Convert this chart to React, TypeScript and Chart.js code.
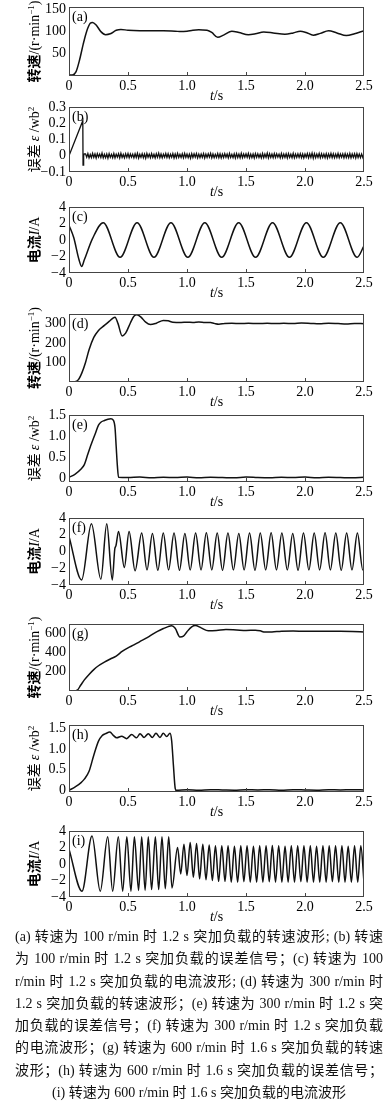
import React, { useEffect, useRef } from "react";
import { Chart, registerables } from "chart.js";

Chart.register(...registerables);

// ---------------- data (time in s, value) ----------------
const xTicks = [0, 0.5, 1, 1.5, 2, 2.5];
const xTickLabels = ["0", "0.5", "1.0", "1.5", "2.0", "2.5"];

const speedTicksA = [50, 100, 150];
const speedLabelsA = ["50", "100", "150"];
const speedTicksD = [100, 200, 300];
const speedLabelsD = ["100", "200", "300"];
const speedTicksG = [200, 400, 600];
const speedLabelsG = ["200", "400", "600"];
const errorTicksB = [-0.1, 0, 0.1, 0.2, 0.3];
const errorLabelsB = ["\u22120.1", "0", "0.1", "0.2", "0.3"];
const errorTicksEH = [0, 0.5, 1, 1.5];
const errorLabelsEH = ["0", "0.5", "1.0", "1.5"];
const currentTicks = [-4, -2, 0, 2, 4];
const currentLabels = ["\u22124", "\u22122", "0", "2", "4"];

const speedA100 = [
  [0, 0], [0.03, 0.5], [0.06, 8], [0.09, 35], [0.12, 70], [0.15, 100], [0.18, 118], [0.2, 120],
  [0.23, 114], [0.27, 99], [0.31, 92], [0.35, 94], [0.4, 102], [0.44, 104], [0.5, 102], [0.6, 101],
  [0.7, 101], [0.8, 101], [0.9, 100], [0.95, 99], [1.0, 100], [1.05, 102], [1.1, 103], [1.17, 102],
  [1.21, 97], [1.26, 86], [1.31, 91], [1.38, 100], [1.44, 97], [1.52, 92], [1.58, 94], [1.65, 98],
  [1.73, 96], [1.83, 93], [1.9, 96], [1.96, 100], [2.01, 97], [2.07, 91], [2.13, 95], [2.2, 101],
  [2.27, 96], [2.35, 90], [2.42, 94], [2.5, 101],
];

const errorB100Head = [
  [0, 0], [0.117, 0.216], [0.119, -0.057], [0.124, 0.0], [0.13, 0.012],
];
const errorB100Noise = [
  0.012, -0.009, 0.014, -0.013, 0.008, -0.012, 0.015, -0.010, 0.011, -0.014, 0.013, -0.008, 0.010, -0.011, 0.016, -0.013, 0.009, -0.012, 0.011, -0.015,
  0.013, -0.010, 0.009, -0.012, 0.014, -0.013, 0.010, -0.009, 0.012, -0.014, 0.015, -0.011, 0.008, -0.013, 0.012, -0.010, 0.014, -0.012, 0.011, -0.009,
  0.010, -0.013, 0.012, -0.011, 0.015, -0.014, 0.009, -0.010, 0.013, -0.012, 0.011, -0.015, 0.014, -0.009, 0.010, -0.012, 0.013, -0.011, 0.009, -0.014,
  0.012, -0.010, 0.016, -0.012, 0.011, -0.013, 0.010, -0.009, 0.014, -0.011, 0.012, -0.013, 0.009, -0.010, 0.013, -0.014, 0.011, -0.012, 0.015, -0.010,
  0.009, -0.011, 0.012, -0.013, 0.014, -0.010, 0.011, -0.012, 0.010, -0.015, 0.013, -0.011, 0.012, -0.009, 0.014, -0.013, 0.010, -0.012, 0.011, -0.010,
  0.013, -0.014, 0.010, -0.011, 0.012, -0.009, 0.015, -0.013, 0.011, -0.012, 0.009, -0.010, 0.014, -0.012, 0.012, -0.014, 0.010, -0.011, 0.013, -0.009,
  0.011, -0.013, 0.014, -0.010, 0.009, -0.012, 0.012, -0.014, 0.013, -0.011, 0.010, -0.013, 0.015, -0.012, 0.011, -0.009, 0.012, -0.010, 0.014, -0.013,
  0.010, -0.012, 0.011, -0.014, 0.013, -0.010, 0.012, -0.011, 0.009, -0.013, 0.014, -0.012, 0.011, -0.010, 0.016, -0.014, 0.012, -0.011, 0.010, -0.012,
  0.013, -0.011, 0.012, -0.009, 0.010, -0.013, 0.014, -0.012, 0.011, -0.010, 0.012, -0.014, 0.013, -0.011, 0.009, -0.012, 0.015, -0.013, 0.010, -0.011,
  0.012, -0.010, 0.013, -0.012, 0.011, -0.014, 0.010, -0.009, 0.014, -0.013, 0.012, -0.011, 0.016, -0.015, 0.013, -0.012, 0.011, -0.010, 0.014, -0.013,
  0.012, -0.011, 0.010, -0.012, 0.013, -0.014, 0.011, -0.010, 0.015, -0.012, 0.012, -0.013, 0.010, -0.011, 0.014, -0.012, 0.011, -0.009, 0.012, -0.013,
  0.013, -0.011, 0.010, -0.012, 0.014, -0.013, 0.011, -0.010, 0.012, -0.014, 0.013, -0.011, 0.010, -0.012, 0.011, -0.010, 0.012,
];
const errorB100NoiseStart = 0.14;
const errorB100NoiseStep = 0.01;

const currentC100 = [
  [0, 1.8], [0.04, 0.3], [0.085, -2.4], [0.107, -3.2], [0.13, -2.4], [0.2, 0.2], [0.29, 2.1],
  [0.433, -2.1], [0.577, 2.1], [0.72, -2.1], [0.864, 2.1], [1.007, -2.1], [1.151, 2.1], [1.294, -2.1],
  [1.438, 2.1], [1.581, -2.1], [1.725, 2.1], [1.868, -2.1], [2.012, 2.1], [2.155, -2.1], [2.299, 2.1],
  [2.442, -2.1], [2.5, -0.7],
];

const speedD300 = [
  [0, 0], [0.05, 1], [0.08, 12], [0.11, 48], [0.14, 100], [0.17, 165], [0.21, 228], [0.25, 264],
  [0.3, 290], [0.34, 310], [0.37, 326], [0.39, 332], [0.415, 300], [0.45, 236], [0.48, 250], [0.52, 302],
  [0.55, 336], [0.575, 344], [0.61, 332], [0.65, 306], [0.69, 294], [0.74, 301], [0.8, 315], [0.84, 313],
  [0.88, 306], [0.95, 305], [1.0, 306], [1.05, 305], [1.1, 307], [1.15, 305], [1.2, 304], [1.23, 300],
  [1.27, 296], [1.32, 300], [1.38, 301], [1.45, 299], [1.52, 301], [1.6, 299], [1.68, 301], [1.75, 299],
  [1.82, 301], [1.9, 299], [1.97, 302], [2.05, 300], [2.12, 298], [2.2, 301], [2.28, 299], [2.35, 297],
  [2.42, 300], [2.5, 298],
];

const errorE300 = [
  [0, 0.03], [0.05, 0.1], [0.1, 0.22], [0.13, 0.33], [0.16, 0.58], [0.19, 0.82], [0.22, 1.04],
  [0.25, 1.26], [0.27, 1.33], [0.3, 1.37], [0.33, 1.4], [0.355, 1.41], [0.375, 1.38], [0.39, 1.2],
  [0.4, 0.75], [0.41, 0.3], [0.42, 0.03], [0.5, 0.025], [0.6, 0.035], [0.7, 0.02], [0.8, 0.03],
  [0.9, 0.025], [1.0, 0.035], [1.1, 0.02], [1.2, 0.03], [1.3, 0.025], [1.4, 0.02], [1.5, 0.035],
  [1.6, 0.025], [1.7, 0.02], [1.8, 0.03], [1.9, 0.025], [2.0, 0.035], [2.1, 0.02], [2.2, 0.03],
  [2.3, 0.025], [2.4, 0.02], [2.5, 0.03],
];

const currentF300 = [
  [0, 1.8], [0.107, -3.4], [0.19, 3.3], [0.27, -3.3], [0.32, 3.3], [0.367, -3.4], [0.388, 0.3],
  [0.398, 0.7], [0.42, 2.4], [0.469, -1.9], [0.509, 2.4], [0.56, -2.3],
  [0.616, 2.2], [0.661, -2.2], [0.707, 2.15], [0.753, -2.25], [0.799, 2.2], [0.844, -2.2], [0.89, 2.2],
  [0.936, -2.25], [0.982, 2.15], [1.027, -2.2], [1.073, 2.2], [1.119, -2.2], [1.164, 2.25], [1.21, -2.2],
  [1.256, 2.2], [1.301, -2.25], [1.347, 2.2], [1.393, -2.2], [1.439, 2.15], [1.484, -2.2], [1.53, 2.2],
  [1.576, -2.25], [1.621, 2.2], [1.667, -2.2], [1.713, 2.25], [1.758, -2.2], [1.804, 2.2], [1.85, -2.2],
  [1.896, 2.15], [1.941, -2.25], [1.987, 2.2], [2.033, -2.2], [2.078, 2.2], [2.124, -2.2], [2.17, 2.25],
  [2.215, -2.2], [2.261, 2.2], [2.307, -2.25], [2.353, 2.2], [2.398, -2.2], [2.444, 2.2], [2.49, -2.2],
  [2.5, -2.1],
];

const speedG600 = [
  [0, 0], [0.04, 0], [0.07, 8], [0.1, 62], [0.13, 115], [0.17, 172], [0.21, 222], [0.25, 262],
  [0.3, 300], [0.35, 332], [0.4, 362], [0.45, 410], [0.5, 448], [0.55, 478], [0.6, 513], [0.65, 545],
  [0.7, 582], [0.75, 618], [0.8, 648], [0.84, 668], [0.87, 676], [0.9, 650], [0.94, 560], [0.97, 568],
  [1.0, 615], [1.04, 665], [1.07, 679], [1.12, 655], [1.18, 625], [1.25, 628], [1.33, 638], [1.42, 633],
  [1.5, 628], [1.58, 630], [1.62, 624], [1.66, 611], [1.72, 612], [1.8, 620], [1.9, 622], [2.0, 620],
  [2.1, 621], [2.2, 620], [2.3, 619], [2.4, 616], [2.5, 612],
];

const errorH600 = [
  [0, 0], [0.05, 0.08], [0.1, 0.18], [0.13, 0.27], [0.17, 0.46], [0.21, 0.85], [0.25, 1.19],
  [0.28, 1.32], [0.31, 1.37], [0.347, 1.41], [0.375, 1.33], [0.404, 1.27], [0.446, 1.31], [0.489, 1.25],
  [0.531, 1.35], [0.573, 1.27], [0.602, 1.37], [0.636, 1.28], [0.672, 1.37], [0.706, 1.28], [0.737, 1.38],
  [0.771, 1.28], [0.799, 1.38], [0.828, 1.3], [0.856, 1.38], [0.87, 1.2], [0.885, 0.6], [0.9, 0.05],
  [0.91, 0.0], [1.0, 0.015], [1.1, 0.005], [1.2, 0.015], [1.3, 0.01], [1.4, 0.005], [1.5, 0.015],
  [1.6, 0.01], [1.7, 0.015], [1.8, 0.005], [1.9, 0.015], [2.0, 0.01], [2.1, 0.005], [2.2, 0.015],
  [2.3, 0.01], [2.4, 0.015], [2.5, 0.01],
];

const currentI600 = [
  [0, 1.8], [0.11, -3.3], [0.195, 3.4], [0.265, -3.3], [0.328, 3.3], [0.37, -3.3], [0.418, 3.3],
  [0.455, -3.3], [0.49, 3.3], [0.525, -3.3], [0.554, 3.3], [0.59, -3.2], [0.616, 3.3], [0.645, -3.2],
  [0.672, 3.3], [0.7, -3.1], [0.732, 3.3], [0.76, -3.1], [0.788, 3.3], [0.816, -3.0], [0.845, 3.3],
  [0.873, -2.9],
  [0.92, 2.0], [0.947, -1.2], [0.974, 2.4], [1.0, -1.4], [1.027, 2.6], [1.054, -1.6], [1.081, 2.5],
  [1.107, -1.8], [1.134, 2.4], [1.161, -1.9], [1.188, 2.3], [1.215, -2.0], [1.241, 2.2], [1.268, -2.1],
  [1.295, 2.2], [1.322, -2.1], [1.348, 2.2], [1.375, -2.2], [1.402, 2.15], [1.429, -2.2], [1.456, 2.2],
  [1.482, -2.15], [1.509, 2.2], [1.536, -2.2], [1.563, 2.15], [1.59, -2.2], [1.616, 2.2], [1.643, -2.2],
  [1.67, 2.2], [1.697, -2.15], [1.723, 2.25], [1.75, -2.2], [1.777, 2.2], [1.804, -2.2], [1.831, 2.15],
  [1.857, -2.2], [1.884, 2.2], [1.911, -2.2], [1.938, 2.2], [1.965, -2.15], [1.991, 2.2], [2.018, -2.2],
  [2.045, 2.2], [2.072, -2.2], [2.098, 2.15], [2.125, -2.2], [2.152, 2.2], [2.179, -2.2], [2.205, 2.2],
  [2.232, -2.15], [2.259, 2.2], [2.286, -2.2], [2.313, 2.2], [2.339, -2.2], [2.366, 2.15], [2.393, -2.2],
  [2.42, 2.2], [2.447, -2.2], [2.473, 2.2], [2.5, -2.2],
];

const captionLines = [
  "(a) 转速为 100 r/min 时 1.2 s 突加负载的转速波形; (b) 转速",
  "为 100 r/min 时 1.2 s 突加负载的误差信号；(c) 转速为 100",
  "r/min 时 1.2 s 突加负载的电流波形; (d) 转速为 300 r/min 时",
  "1.2 s 突加负载的转速波形；(e) 转速为 300 r/min 时 1.2 s 突",
  "加负载的误差信号；(f) 转速为 300 r/min 时 1.2 s 突加负载",
  "的电流波形；(g) 转速为 600 r/min 时 1.6 s 突加负载的转速",
  "波形；(h) 转速为 600 r/min 时 1.6 s 突加负载的误差信号；",
  "(i) 转速为 600 r/min 时 1.6 s 突加负载的电流波形",
];

// ---------------- layout / style ----------------
const PAD_T = 12;
const X_H = 30;
const Y_W = 69;
const PAD_R = 28;
const SERIF = '"Liberation Serif", "Times New Roman", serif';
const CJK = '"Noto Sans CJK SC", sans-serif';

const errorB100 = [
  ...errorB100Head,
  ...errorB100Noise.map((v, i) => [errorB100NoiseStart + i * errorB100NoiseStep, v]),
];

type Seg = { t: string; f: string; dy?: number };

const titles: Record<string, Seg[]> = {
  speed: [
    { t: "转速", f: `bold 14px ${CJK}` },
    { t: "/(r\u00B7min", f: `14px ${SERIF}` },
    { t: "\u22121", f: `9px ${SERIF}`, dy: -5 },
    { t: ")", f: `14px ${SERIF}` },
  ],
  error: [
    { t: "误差 ", f: `14px ${CJK}` },
    { t: "\u03B5", f: `italic 14px ${SERIF}` },
    { t: " /wb", f: `14px ${SERIF}` },
    { t: "2", f: `9px ${SERIF}`, dy: -5 },
  ],
  current: [
    { t: "电流", f: `bold 14px ${CJK}` },
    { t: "I", f: `italic 14px ${SERIF}` },
    { t: "/A", f: `14px ${SERIF}` },
  ],
};

const xTitle: Seg[] = [
  { t: "t", f: `italic 14px ${SERIF}` },
  { t: "/s", f: `14px ${SERIF}` },
];

const panels = [
  { id: "(a)", data: speedA100, yMin: -2, yMax: 155, yTicks: speedTicksA, yLabels: speedLabelsA, kind: "speed", smooth: true, top: 7, h: 69 },
  { id: "(b)", data: errorB100, yMin: -0.1, yMax: 0.3, yTicks: errorTicksB, yLabels: errorLabelsB, kind: "error", smooth: false, top: 107, h: 65 },
  { id: "(c)", data: currentC100, yMin: -4, yMax: 4, yTicks: currentTicks, yLabels: currentLabels, kind: "current", smooth: true, top: 207, h: 66 },
  { id: "(d)", data: speedD300, yMin: 0, yMax: 348, yTicks: speedTicksD, yLabels: speedLabelsD, kind: "speed", smooth: true, top: 314, h: 68 },
  { id: "(e)", data: errorE300, yMin: -0.08, yMax: 1.5, yTicks: errorTicksEH, yLabels: errorLabelsEH, kind: "error", smooth: true, top: 415, h: 67 },
  { id: "(f)", data: currentF300, yMin: -4, yMax: 4, yTicks: currentTicks, yLabels: currentLabels, kind: "current", smooth: true, top: 518, h: 67 },
  { id: "(g)", data: speedG600, yMin: 0, yMax: 695, yTicks: speedTicksG, yLabels: speedLabelsG, kind: "speed", smooth: true, top: 624, h: 67 },
  { id: "(h)", data: errorH600, yMin: -0.04, yMax: 1.58, yTicks: errorTicksEH, yLabels: errorLabelsEH, kind: "error", smooth: true, top: 725, h: 67 },
  { id: "(i)", data: currentI600, yMin: -4, yMax: 4, yTicks: currentTicks, yLabels: currentLabels, kind: "current", smooth: true, top: 831, h: 66 },
];

function drawRich(ctx: CanvasRenderingContext2D, segs: Seg[], cx: number, cy: number, rotate: boolean) {
  let total = 0;
  const widths: number[] = [];
  segs.forEach((s) => {
    ctx.font = s.f;
    const w = ctx.measureText(s.t).width;
    widths.push(w);
    total += w;
  });
  ctx.save();
  ctx.translate(cx, cy);
  if (rotate) ctx.rotate(-Math.PI / 2);
  ctx.textAlign = "left";
  ctx.textBaseline = "alphabetic";
  ctx.fillStyle = "#000";
  let x = -total / 2;
  segs.forEach((s, i) => {
    ctx.font = s.f;
    ctx.fillText(s.t, x, 5 + (s.dy || 0));
    x += widths[i];
  });
  ctx.restore();
}

const framePlugin = {
  id: "framePlugin",
  afterDraw(chart: any) {
    const ctx: CanvasRenderingContext2D = chart.ctx;
    const ca = chart.chartArea;
    const cfg = chart.options.plugins.framePlugin;
    ctx.save();
    ctx.strokeStyle = "#444";
    ctx.lineWidth = 1;
    ctx.strokeRect(ca.left + 0.5, ca.top + 0.5, ca.right - ca.left - 1, ca.bottom - ca.top - 1);
    const xs = chart.scales.x;
    ctx.beginPath();
    xs.ticks.forEach((t: any, i: number) => {
      if (i === 0 || i === xs.ticks.length - 1) return;
      const px = Math.round(xs.getPixelForValue(t.value)) + 0.5;
      ctx.moveTo(px, ca.bottom);
      ctx.lineTo(px, ca.bottom - 4);
    });
    ctx.stroke();
    ctx.fillStyle = "#000";
    ctx.font = `14px ${SERIF}`;
    ctx.textAlign = "left";
    ctx.textBaseline = "top";
    ctx.fillText(cfg.label, ca.left + 3, ca.top + 3);
    ctx.restore();
    drawRich(ctx, titles[cfg.kind], 34, (ca.top + ca.bottom) / 2, true);
    drawRich(ctx, xTitle, (ca.left + ca.right) / 2, ca.bottom + 19, false);
  },
};

function Panel({ p }: { p: any }) {
  const ref = useRef<HTMLCanvasElement | null>(null);
  const H = PAD_T + p.h + X_H;
  useEffect(() => {
    if (!ref.current) return;
    const chart = new Chart(ref.current, {
      type: "line",
      data: {
        datasets: [
          {
            data: p.data.map(([x, y]: number[]) => ({ x, y })),
            borderColor: "#111",
            borderWidth: p.smooth ? 1.5 : 1.3,
            pointRadius: 0,
            fill: false,
            tension: 0,
            cubicInterpolationMode: p.smooth ? "monotone" : "default",
          } as any,
        ],
      },
      options: {
        animation: false,
        responsive: false,
        events: [],
        layout: { padding: { top: PAD_T, left: 0, right: PAD_R, bottom: 0 } },
        plugins: {
          legend: { display: false },
          tooltip: { enabled: false },
          framePlugin: { label: p.id, kind: p.kind },
        } as any,
        scales: {
          x: {
            type: "linear",
            min: 0,
            max: 2.5,
            grid: { display: false, drawTicks: false },
            border: { display: false },
            ticks: {
              font: { family: SERIF, size: 14 },
              color: "#000",
              padding: 2,
              maxRotation: 0,
              autoSkip: false,
              callback: (_v: any, i: number) => xTickLabels[i],
            },
            afterBuildTicks: (s: any) => {
              s.ticks = xTicks.map((v) => ({ value: v }));
            },
            afterFit: (s: any) => {
              s.height = X_H;
            },
          },
          y: {
            type: "linear",
            min: p.yMin,
            max: p.yMax,
            grid: { display: false, drawTicks: false },
            border: { display: false },
            ticks: {
              font: { family: SERIF, size: 14 },
              color: "#000",
              padding: 3,
              autoSkip: false,
              callback: (_v: any, i: number) => p.yLabels[i],
            },
            afterBuildTicks: (s: any) => {
              s.ticks = p.yTicks.map((v: number) => ({ value: v }));
            },
            afterFit: (s: any) => {
              s.width = Y_W;
            },
          },
        } as any,
      },
      plugins: [framePlugin as any],
    });
    return () => chart.destroy();
  }, []);
  return (
    <canvas
      ref={ref}
      width={392}
      height={H}
      style={{ position: "absolute", left: 0, top: p.top - PAD_T, width: 392, height: H }}
    />
  );
}

export default function App() {
  return (
    <div style={{ position: "absolute", left: 0, top: 0, width: 392, height: 1107, background: "#fff", overflow: "hidden" }}>
      {panels.map((p) => (
        <Panel key={p.id} p={p} />
      ))}
      <div
        style={{
          position: "absolute",
          left: 15,
          top: 926,
          width: 368,
          fontFamily: `"Liberation Serif", ${CJK}`,
          fontSize: "14px",
          lineHeight: "22.3px",
          color: "#111",
        }}
      >
        {captionLines.map((l, i) => (
          <div
            key={i}
            style={{
              textAlign: i === captionLines.length - 1 ? "center" : "justify",
              textAlignLast: i === captionLines.length - 1 ? "center" : "justify",
              whiteSpace: "nowrap",
            } as any}
          >
            {l}
          </div>
        ))}
      </div>
    </div>
  );
}
